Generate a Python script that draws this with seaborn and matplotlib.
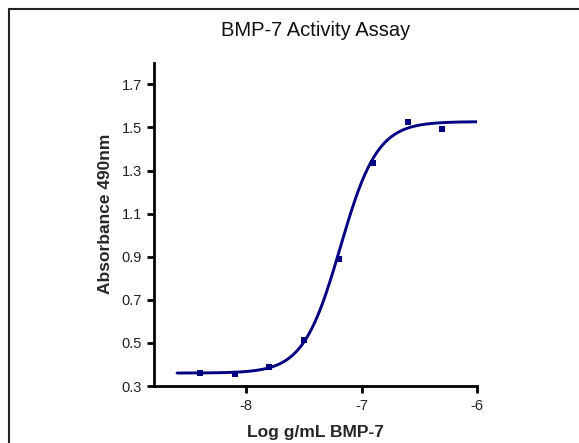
import numpy as np
import pandas as pd
import matplotlib
matplotlib.use("Agg")
import matplotlib.pyplot as plt
import seaborn as sns

# Measured points (log g/mL BMP-7 vs absorbance at 490 nm)
log_conc = [-8.4, -8.1, -7.8, -7.5, -7.2, -6.9, -6.6, -6.3]
absorbance = [0.362, 0.357, 0.390, 0.513, 0.888, 1.336, 1.525, 1.494]

# Four-parameter logistic fit parameters
fit_bottom = 0.360
fit_top = 1.527
fit_log_ec50 = -7.185
fit_hill = 2.7
fit_x_start = -8.6
fit_x_end = -6.0

x_ticks = [-8, -7, -6]
y_ticks = [0.3, 0.5, 0.7, 0.9, 1.1, 1.3, 1.5, 1.7]

sns.set_theme(style="ticks")
plt.rcParams['font.family'] = ['Liberation Sans', 'DejaVu Sans']

fig = plt.figure(figsize=(5.79, 4.43), dpi=100)
ax = fig.add_axes([154/579, 1-386/443, (477-154)/579, (386-62.8)/443])

navy = "#000080"
xf = np.linspace(fit_x_start, fit_x_end, 300)
yf = fit_bottom + (fit_top - fit_bottom) / (1 + 10 ** ((fit_log_ec50 - xf) * fit_hill))
fit_df = pd.DataFrame({"x": xf, "y": yf})
pts_df = pd.DataFrame({"x": log_conc, "y": absorbance})

sns.lineplot(data=fit_df, x="x", y="y", ax=ax, color=navy, linewidth=2.1)
sns.scatterplot(data=pts_df, x="x", y="y", ax=ax, color=navy, marker="s", s=20,
                edgecolor=navy, linewidth=0, zorder=3)

ax.set_xlim(-8.8, -6.0)
ax.set_ylim(0.3, 1.8)
ax.set_xticks(x_ticks)
ax.set_xticklabels([str(t) for t in x_ticks])
ax.set_yticks(y_ticks)
ax.set_yticklabels([f"{t:.1f}" for t in y_ticks])
ax.tick_params(axis="both", labelsize=10.5, width=2, length=5, color="black",
               labelcolor="#222222")
ax.tick_params(axis="x", pad=4)
for s in ["top", "right"]:
    ax.spines[s].set_visible(False)
for s in ["left", "bottom"]:
    ax.spines[s].set_linewidth(2)
    ax.spines[s].set_color("black")

ax.set_xlabel("Log g/mL BMP-7", fontsize=12.5, fontweight="bold", labelpad=9)
ax.set_ylabel("Absorbance 490nm", fontsize=12.5, fontweight="bold")
ax.yaxis.set_label_coords((113 - 154) / 323, (386 - 214) / 323.2)

fig.text(315.5/579, 1-36/443, "BMP-7 Activity Assay", ha="center", va="baseline",
         fontsize=14.5, color="#111111")

# image frame lines on the left and top
fig.add_artist(plt.Line2D([8.5/579, 8.5/579], [0, 1-8.5/443], transform=fig.transFigure,
                          color="#222222", linewidth=1.5))
fig.add_artist(plt.Line2D([8.5/579, 1], [1-8.5/443, 1-8.5/443], transform=fig.transFigure,
                          color="#222222", linewidth=1.5))

fig.savefig("out.png", dpi=100)
